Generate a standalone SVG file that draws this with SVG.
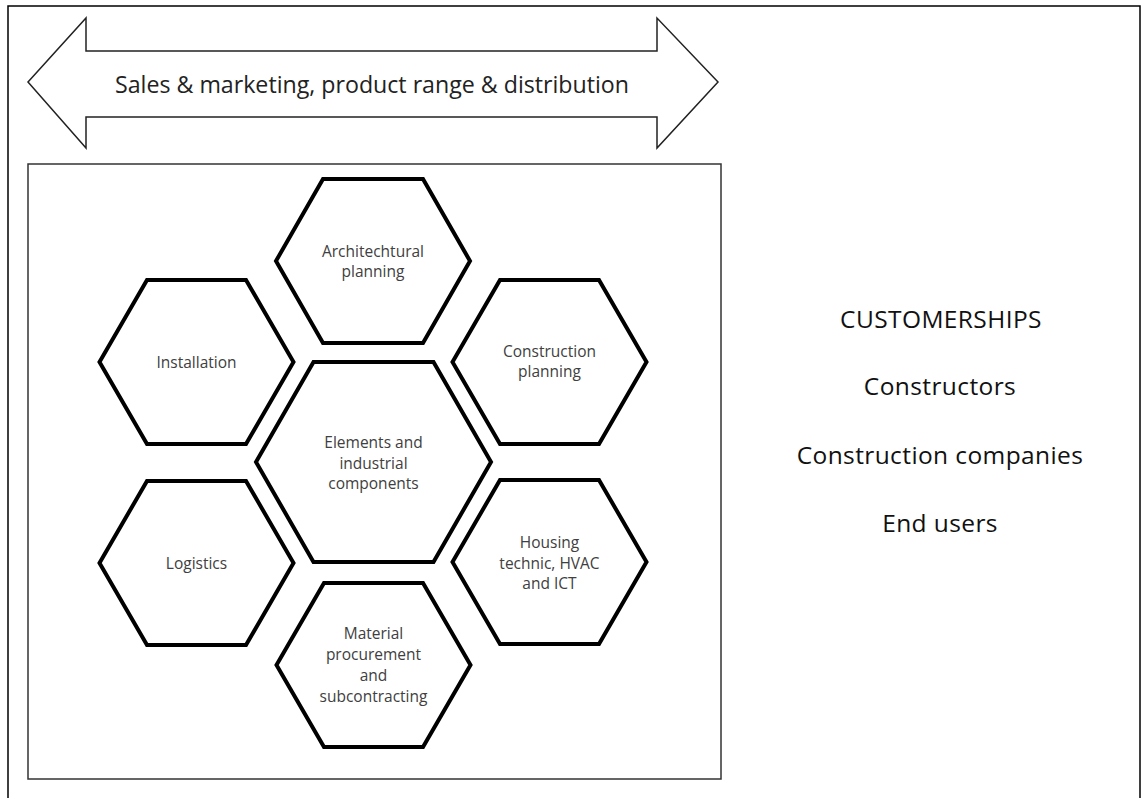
<svg xmlns="http://www.w3.org/2000/svg" width="1148" height="798" viewBox="0 0 1148 798">
<style>
.hex{fill:#fff;stroke:#000;stroke-width:4;stroke-linejoin:miter}
.ht{font-family:"Open Sans","Liberation Sans",sans-serif;font-size:15.5px;fill:#404040;text-anchor:middle}
.ct{font-family:"Open Sans","Liberation Sans",sans-serif;font-size:24.5px;fill:#111;text-anchor:middle;letter-spacing:0.4px}
</style>
<rect width="1148" height="798" fill="#fff"/>
<path d="M8,800 V6 H1140 V800" fill="none" stroke="#000" stroke-width="1.5"/>
<g id="banner">
<polygon points="28,82 86,18 86,51 657,51 657,18 718,82 657,148 657,117 86,117 86,148" fill="#fff" stroke="#222" stroke-width="1.5"/>
<text x="372" y="93" font-family="Open Sans, Liberation Sans, sans-serif" font-size="24" fill="#222" text-anchor="middle" textLength="514" lengthAdjust="spacingAndGlyphs">Sales &amp; marketing, product range &amp; distribution</text>
</g>
<rect id="frame" x="28" y="164" width="693" height="615" fill="none" stroke="#333" stroke-width="1.5"/>
<g id="architectural">
<polygon class="hex" points="276,261 323,179 423,179 470,261 423,343 323,343"/>
<text class="ht" x="373" y="257">Architechtural</text>
<text class="ht" x="373" y="277">planning</text>
</g>
<g id="installation">
<polygon class="hex" points="99.5,362 147,280 246,280 293.5,362 246,444 147,444"/>
<text class="ht" x="196.5" y="368">Installation</text>
</g>
<g id="construction">
<polygon class="hex" points="452.5,362 500,280 599,280 646.5,362 599,444 500,444"/>
<text class="ht" x="549.5" y="357">Construction</text>
<text class="ht" x="549.5" y="377">planning</text>
</g>
<g id="elements">
<polygon class="hex" points="256,462 313.5,362 433.5,362 491,462 433.5,562 313.5,562"/>
<text class="ht" x="373.5" y="448">Elements and</text>
<text class="ht" x="373.5" y="469">industrial</text>
<text class="ht" x="373.5" y="489">components</text>
</g>
<g id="logistics">
<polygon class="hex" points="99.5,563 147,481 246,481 293.5,563 246,645 147,645"/>
<text class="ht" x="196.5" y="569">Logistics</text>
</g>
<g id="housing">
<polygon class="hex" points="452.5,562 500,480 599,480 646.5,562 599,644 500,644"/>
<text class="ht" x="549.5" y="548">Housing</text>
<text class="ht" x="549.5" y="569">technic, HVAC</text>
<text class="ht" x="549.5" y="589">and ICT</text>
</g>
<g id="material">
<polygon class="hex" points="276.5,665 324,583 423,583 470.5,665 423,747 324,747"/>
<text class="ht" x="373.5" y="639">Material</text>
<text class="ht" x="373.5" y="660">procurement</text>
<text class="ht" x="373.5" y="681">and</text>
<text class="ht" x="373.5" y="702">subcontracting</text>
</g>
<g id="customerships">
<text class="ct" x="941" y="328">CUSTOMERSHIPS</text>
<text class="ct" x="940" y="395">Constructors</text>
<text class="ct" x="940" y="464">Construction companies</text>
<text class="ct" x="940" y="532">End users</text>
</g>
<g id="connectors"></g>
</svg>
